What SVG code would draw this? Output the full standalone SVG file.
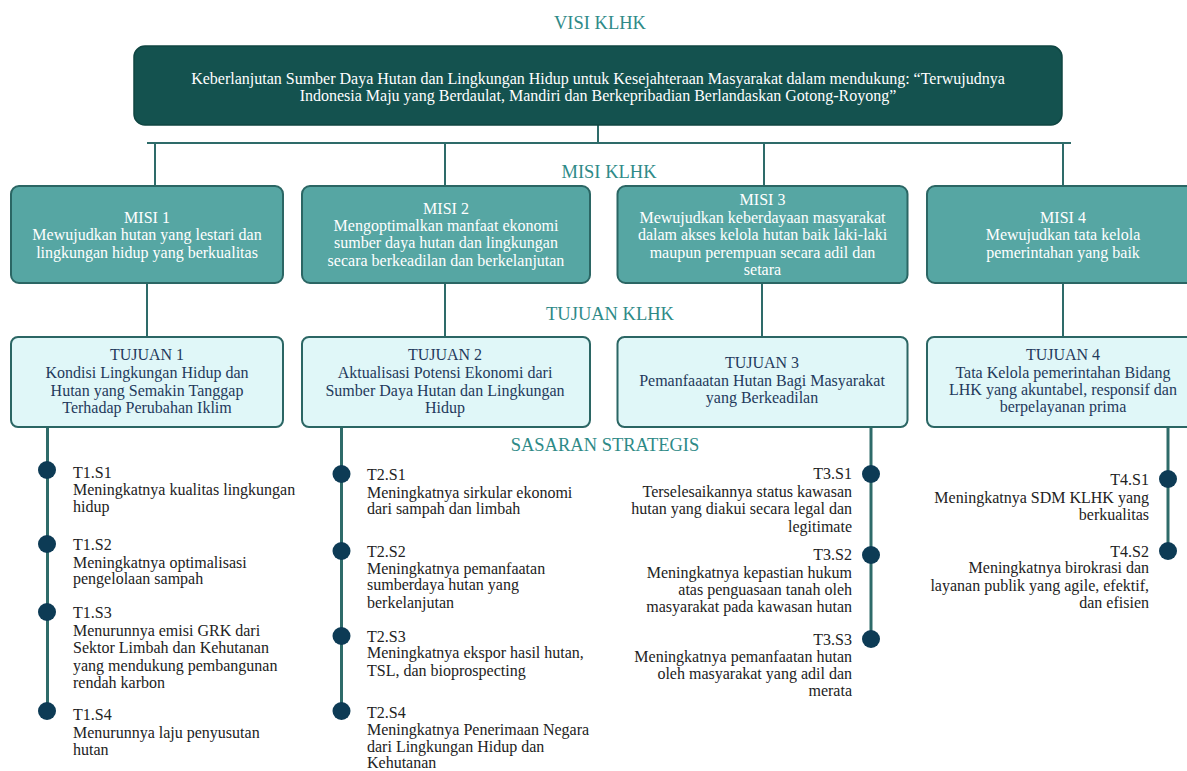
<svg xmlns="http://www.w3.org/2000/svg" width="1187" height="771" viewBox="0 0 1187 771">
<style>
text{font-family:"Liberation Serif","Times New Roman",serif;font-size:16px}
.hdr{font-size:18.5px;fill:#2e8a87;text-anchor:middle}
.vis{fill:#14524f;stroke:#0f4542;stroke-width:1.5}
.vt{fill:#ffffff;text-anchor:middle;font-size:16px}
.misi{fill:#56a6a3;stroke:#2b6664;stroke-width:2}
.mt{fill:#ffffff;text-anchor:middle}
.tuj{fill:#e0f7f8;stroke:#2b6664;stroke-width:2}
.tt{fill:#1f3a5c;text-anchor:middle}
.con{stroke:#2e6b69;stroke-width:2;fill:none}
.spine{stroke:#2e6b69;stroke-width:3;fill:none}
.dot{fill:#0d3b55}
.st{fill:#222222}
.str{fill:#222222;text-anchor:end}
</style>

<text class="hdr" x="600" y="29">VISI KLHK</text>
<text class="hdr" x="609" y="178">MISI KLHK</text>
<text class="hdr" x="610" y="320">TUJUAN KLHK</text>
<text class="hdr" x="605" y="451">SASARAN STRATEGIS</text>

<g id="connectors">
<line class="con" x1="598" y1="125" x2="598" y2="143"/>
<line class="con" x1="147" y1="143" x2="1071" y2="143"/>
<line class="con" x1="155" y1="143" x2="155" y2="186"/>
<line class="con" x1="445" y1="143" x2="445" y2="186"/>
<line class="con" x1="764" y1="143" x2="764" y2="186"/>
<line class="con" x1="1063" y1="143" x2="1063" y2="186"/>
<line class="con" x1="147" y1="283" x2="147" y2="337"/>
<line class="con" x1="445" y1="283" x2="445" y2="337"/>
<line class="con" x1="762" y1="283" x2="762" y2="337"/>
<line class="con" x1="1063" y1="283" x2="1063" y2="337"/>
<line class="spine" x1="47.5" y1="427" x2="47.5" y2="712"/>
<line class="spine" x1="341.5" y1="427" x2="341.5" y2="712"/>
<line class="spine" x1="871" y1="427" x2="871" y2="640"/>
<line class="spine" x1="1168" y1="427" x2="1168" y2="552"/>
</g>

<g id="visi">
<rect class="vis" x="134" y="46" width="928" height="79" rx="11"/>
<text class="vt" x="598" y="84">Keberlanjutan Sumber Daya Hutan dan Lingkungan Hidup untuk Kesejahteraan Masyarakat dalam mendukung: “Terwujudnya</text>
<text class="vt" x="598" y="101">Indonesia Maju yang Berdaulat, Mandiri dan Berkepribadian Berlandaskan Gotong-Royong”</text>
</g>

<g id="misi1">
<rect class="misi" x="11" y="186" width="272" height="97" rx="8"/>
<text class="mt" x="147" y="223">MISI 1</text>
<text class="mt" x="147" y="240">Mewujudkan hutan yang lestari dan</text>
<text class="mt" x="147" y="258">lingkungan hidup yang berkualitas</text>
</g>
<g id="misi2">
<rect class="misi" x="302" y="186" width="288" height="97" rx="8"/>
<text class="mt" x="446" y="214">MISI 2</text>
<text class="mt" x="446" y="231">Mengoptimalkan manfaat ekonomi</text>
<text class="mt" x="446" y="248">sumber daya hutan dan lingkungan</text>
<text class="mt" x="446" y="266">secara berkeadilan dan berkelanjutan</text>
</g>
<g id="misi3">
<rect class="misi" x="617.5" y="186" width="290" height="97" rx="8"/>
<text class="mt" x="762.5" y="205">MISI 3</text>
<text class="mt" x="762.5" y="223">Mewujudkan keberdayaan masyarakat</text>
<text class="mt" x="762.5" y="240">dalam akses kelola hutan baik laki-laki</text>
<text class="mt" x="762.5" y="258">maupun perempuan secara adil dan</text>
<text class="mt" x="762.5" y="275">setara</text>
</g>
<g id="misi4">
<rect class="misi" x="927" y="186" width="272" height="97" rx="8"/>
<text class="mt" x="1063" y="223">MISI 4</text>
<text class="mt" x="1063" y="240">Mewujudkan tata kelola</text>
<text class="mt" x="1063" y="258">pemerintahan yang baik</text>
</g>

<g id="tujuan1">
<rect class="tuj" x="11" y="337" width="272" height="90" rx="7"/>
<text class="tt" x="147" y="360">TUJUAN 1</text>
<text class="tt" x="147" y="378">Kondisi Lingkungan Hidup dan</text>
<text class="tt" x="147" y="396">Hutan yang Semakin Tanggap</text>
<text class="tt" x="147" y="413">Terhadap Perubahan Iklim</text>
</g>
<g id="tujuan2">
<rect class="tuj" x="302" y="337" width="288" height="90" rx="7"/>
<text class="tt" x="445" y="360">TUJUAN 2</text>
<text class="tt" x="445" y="378">Aktualisasi Potensi Ekonomi dari</text>
<text class="tt" x="445" y="396">Sumber Daya Hutan dan Lingkungan</text>
<text class="tt" x="445" y="413">Hidup</text>
</g>
<g id="tujuan3">
<rect class="tuj" x="617.5" y="337" width="290" height="90" rx="7"/>
<text class="tt" x="762" y="368">TUJUAN 3</text>
<text class="tt" x="762" y="386">Pemanfaaatan Hutan Bagi Masyarakat</text>
<text class="tt" x="762" y="403">yang Berkeadilan</text>
</g>
<g id="tujuan4">
<rect class="tuj" x="927" y="337" width="272" height="90" rx="7"/>
<text class="tt" x="1063" y="360">TUJUAN 4</text>
<text class="tt" x="1063" y="378">Tata Kelola pemerintahan Bidang</text>
<text class="tt" x="1063" y="395">LHK yang akuntabel, responsif dan</text>
<text class="tt" x="1063" y="412">berpelayanan prima</text>
</g>

<g id="t1s1">
<circle class="dot" cx="47" cy="470" r="9"/>
<text class="st" x="73" y="478">T1.S1</text>
<text class="st" x="73" y="495">Meningkatnya kualitas lingkungan</text>
<text class="st" x="73" y="512">hidup</text>
</g>
<g id="t1s2">
<circle class="dot" cx="47" cy="544" r="9"/>
<text class="st" x="73" y="550">T1.S2</text>
<text class="st" x="73" y="568">Meningkatnya optimalisasi</text>
<text class="st" x="73" y="584">pengelolaan sampah</text>
</g>
<g id="t1s3">
<circle class="dot" cx="47" cy="612" r="9"/>
<text class="st" x="73" y="618">T1.S3</text>
<text class="st" x="73" y="636">Menurunnya emisi GRK dari</text>
<text class="st" x="73" y="653">Sektor Limbah dan Kehutanan</text>
<text class="st" x="73" y="671">yang mendukung pembangunan</text>
<text class="st" x="73" y="688">rendah karbon</text>
</g>
<g id="t1s4">
<circle class="dot" cx="47" cy="711" r="9"/>
<text class="st" x="73" y="720">T1.S4</text>
<text class="st" x="73" y="738">Menurunnya laju penyusutan</text>
<text class="st" x="73" y="755">hutan</text>
</g>

<g id="t2s1">
<circle class="dot" cx="341.5" cy="474" r="9"/>
<text class="st" x="367" y="480">T2.S1</text>
<text class="st" x="367" y="498">Meningkatnya sirkular ekonomi</text>
<text class="st" x="367" y="514">dari sampah dan limbah</text>
</g>
<g id="t2s2">
<circle class="dot" cx="341.5" cy="551" r="9"/>
<text class="st" x="367" y="557">T2.S2</text>
<text class="st" x="367" y="574">Meningkatnya pemanfaatan</text>
<text class="st" x="367" y="590">sumberdaya hutan yang</text>
<text class="st" x="367" y="608">berkelanjutan</text>
</g>
<g id="t2s3">
<circle class="dot" cx="341.5" cy="636" r="9"/>
<text class="st" x="367" y="642">T2.S3</text>
<text class="st" x="367" y="658">Meningkatnya ekspor hasil hutan,</text>
<text class="st" x="367" y="676">TSL, dan bioprospecting</text>
</g>
<g id="t2s4">
<circle class="dot" cx="341.5" cy="711" r="9"/>
<text class="st" x="367" y="718">T2.S4</text>
<text class="st" x="367" y="735">Meningkatnya Penerimaan Negara</text>
<text class="st" x="367" y="752">dari Lingkungan Hidup dan</text>
<text class="st" x="367" y="768">Kehutanan</text>
</g>

<g id="t3s1">
<circle class="dot" cx="871" cy="474" r="9"/>
<text class="str" x="852" y="479">T3.S1</text>
<text class="str" x="852" y="497">Terselesaikannya status kawasan</text>
<text class="str" x="852" y="514">hutan yang diakui secara legal dan</text>
<text class="str" x="852" y="532">legitimate</text>
</g>
<g id="t3s2">
<circle class="dot" cx="871" cy="555" r="9"/>
<text class="str" x="852" y="560">T3.S2</text>
<text class="str" x="852" y="578">Meningkatnya kepastian hukum</text>
<text class="str" x="852" y="595">atas penguasaan tanah oleh</text>
<text class="str" x="852" y="612">masyarakat pada kawasan hutan</text>
</g>
<g id="t3s3">
<circle class="dot" cx="871" cy="639" r="9"/>
<text class="str" x="852" y="645">T3.S3</text>
<text class="str" x="852" y="662">Meningkatnya pemanfaatan hutan</text>
<text class="str" x="852" y="679">oleh masyarakat yang adil dan</text>
<text class="str" x="852" y="696">merata</text>
</g>

<g id="t4s1">
<circle class="dot" cx="1168" cy="479" r="9"/>
<text class="str" x="1149" y="485">T4.S1</text>
<text class="str" x="1149" y="503">Meningkatnya SDM KLHK yang</text>
<text class="str" x="1149" y="520">berkualitas</text>
</g>
<g id="t4s2">
<circle class="dot" cx="1168" cy="551" r="9"/>
<text class="str" x="1149" y="557">T4.S2</text>
<text class="str" x="1149" y="573">Meningkatnya birokrasi dan</text>
<text class="str" x="1149" y="591">layanan publik yang agile, efektif,</text>
<text class="str" x="1149" y="608">dan efisien</text>
</g>
</svg>
